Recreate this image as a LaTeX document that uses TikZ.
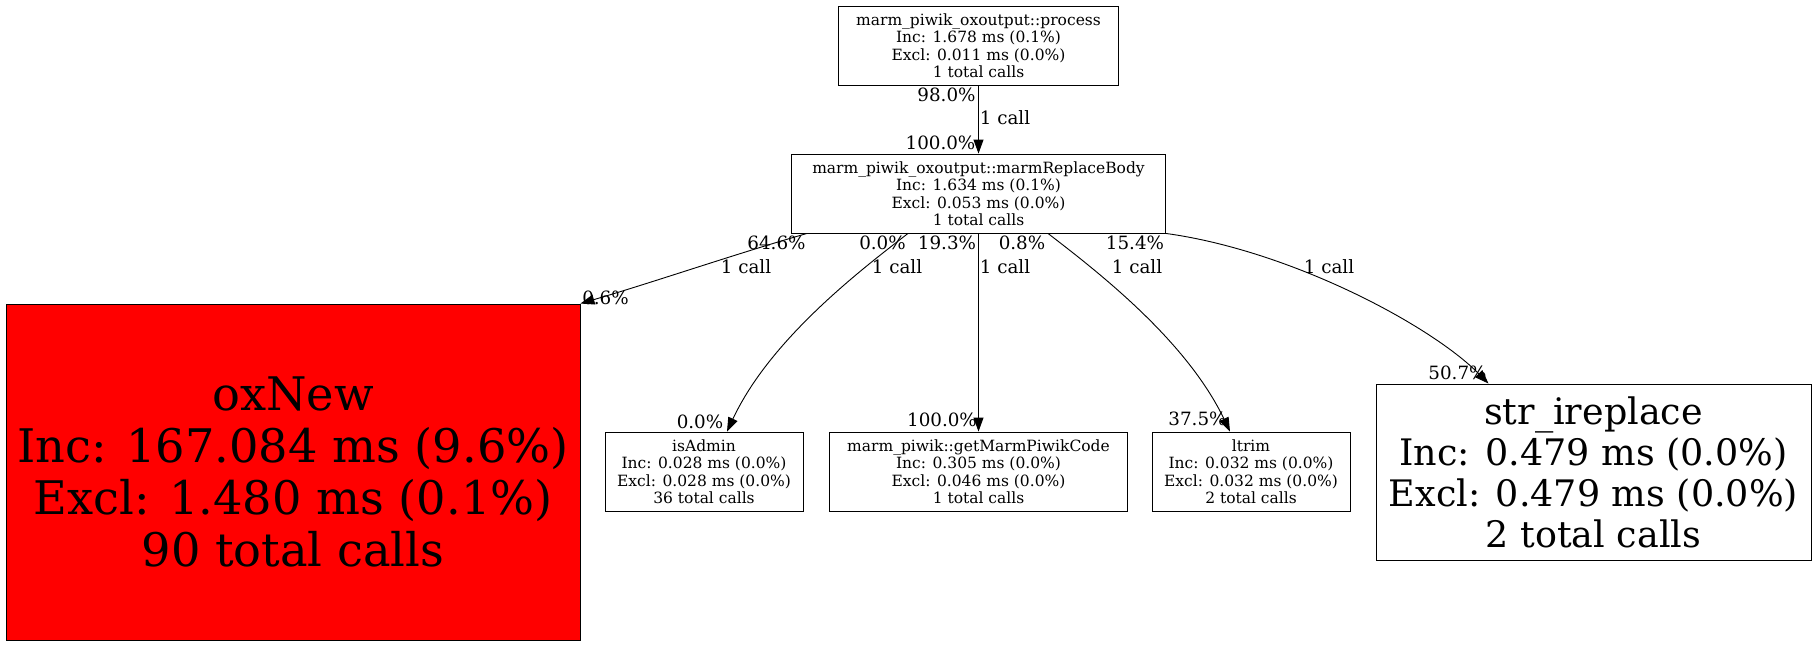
\documentclass[tikz,border=0pt]{standalone}
\usepackage{fontspec}
\setmainfont{DejaVu Serif}
\usetikzlibrary{arrows.meta,calc}
\definecolor{boxred}{HTML}{FF0000}
\begin{document}
\begin{tikzpicture}[x=1pt,y=-1pt,
  fnbox/.style={draw=black,line width=0.9pt,inner sep=0pt,align=center},
  small/.style={fnbox,font=\fontsize{15.5}{17.5}\selectfont,minimum height=79pt},
  elabel/.style={inner sep=0pt,font=\fontsize{18.3}{20}\selectfont,text height=13.3pt,text depth=0pt},
  conn/.style={line width=0.9pt,-{Triangle[length=14pt,width=10pt]}}]
\useasboundingbox (0,0) rectangle (1816,645);
% nodes
\node[small,minimum width=280pt] (process) at (978.5,45.5)
  {marm\_piwik\_oxoutput::process\\Inc: 1.678 ms (0.1\%)\\Excl: 0.011 ms (0.0\%)\\1 total calls};
\node[small,minimum width=374pt] (marm) at (978.5,193.5)
  {marm\_piwik\_oxoutput::marmReplaceBody\\Inc: 1.634 ms (0.1\%)\\Excl: 0.053 ms (0.0\%)\\1 total calls};
\node[fnbox,fill=boxred,minimum width=574pt,minimum height=336pt,font=\fontsize{46.3}{52}\selectfont] (oxnew) at (293,472)
  {oxNew\\Inc: 167.084 ms (9.6\%)\\Excl: 1.480 ms (0.1\%)\\90 total calls};
\node[small,minimum width=198pt] (isadmin) at (704,471.5)
  {isAdmin\\Inc: 0.028 ms (0.0\%)\\Excl: 0.028 ms (0.0\%)\\36 total calls};
\node[small,minimum width=298pt] (getcode) at (978.5,471.5)
  {marm\_piwik::getMarmPiwikCode\\Inc: 0.305 ms (0.0\%)\\Excl: 0.046 ms (0.0\%)\\1 total calls};
\node[small,minimum width=198pt] (ltrim) at (1251,471.5)
  {ltrim\\Inc: 0.032 ms (0.0\%)\\Excl: 0.032 ms (0.0\%)\\2 total calls};
\node[fnbox,minimum width=435pt,minimum height=176pt,font=\fontsize{36.5}{41}\selectfont] (strir) at (1593.5,472)
  {str\_ireplace\\Inc: 0.479 ms (0.0\%)\\Excl: 0.479 ms (0.0\%)\\2 total calls};
% connectors
\draw[conn] (process.south) -- (marm.north);
\draw[conn] ([xshift=-171.5pt]marm.south) .. controls +(-70,20) and +(75,-22) .. (oxnew.north east);
\draw[conn] ([xshift=-70.5pt]marm.south) .. controls +(-48,37) and +(43,-92) .. ([xshift=23pt]isadmin.north);
\draw[conn] (marm.south) -- (getcode.north);
\draw[conn] ([xshift=69.5pt]marm.south) .. controls +(48,37) and +(-44,-92) .. ([xshift=-21pt]ltrim.north);
\draw[conn] (marm.south east) .. controls +(124,17) and +(-58.5,-59) .. ([xshift=-105pt]strir.north);
% edge labels
\node[elabel] (l1) at (946.5,95) {98.0\%};
\node[elabel] (l2) at (1005,118) {1 call};
\node[elabel] (l3) at (940.5,143) {100.0\%};
\node[elabel] (l4) at (776.5,243) {64.6\%};
\node[elabel] (l5) at (746,267) {1 call};
\node[elabel] (l6) at (605.5,298) {0.6\%};
\node[elabel] (l7) at (882.5,243) {0.0\%};
\node[elabel] (l8) at (897,267) {1 call};
\node[elabel] (l9) at (700,422) {0.0\%};
\node[elabel] (l10) at (947,243) {19.3\%};
\node[elabel] (l11) at (1005,267) {1 call};
\node[elabel] (l12) at (942,420) {100.0\%};
\node[elabel] (l13) at (1022,243) {0.8\%};
\node[elabel] (l14) at (1137,267) {1 call};
\node[elabel] (l15) at (1197.5,419) {37.5\%};
\node[elabel] (l16) at (1135,243) {15.4\%};
\node[elabel] (l17) at (1329,267) {1 call};
\node[elabel] (l18) at (1457.5,373) {50.7\%};
\end{tikzpicture}
\end{document}
